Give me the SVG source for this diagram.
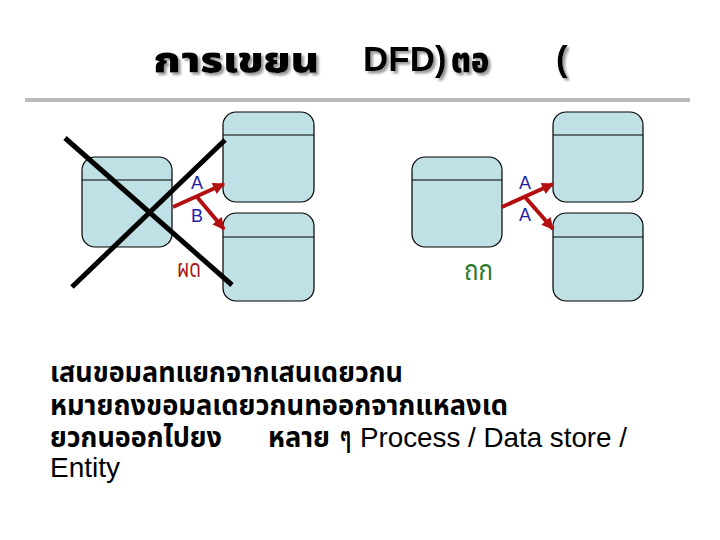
<svg xmlns="http://www.w3.org/2000/svg" width="720" height="540" viewBox="0 0 720 540">
<style>
.box{fill:#bfe0e4;stroke:#000;stroke-width:1.2}
.div{stroke:#000;stroke-width:1.2}
.ttl{font-family:"Liberation Sans","Noto Sans Thai","Tahoma",sans-serif;font-weight:bold;font-size:35px;fill:#000;filter:url(#sh)}
.ttlth{font-family:"Noto Sans Thai","Liberation Sans","Tahoma",sans-serif;font-weight:900;font-size:36px;fill:#000;filter:url(#sh)}
.body{font-family:"Liberation Sans","Noto Sans Thai","Tahoma",sans-serif;font-size:28px;fill:#000}
.th{font-family:"Noto Sans Thai","Liberation Sans","Tahoma",sans-serif;font-size:28px;font-weight:bold;fill:#000}
.lbl{font-family:"Liberation Sans",sans-serif;font-size:18px;fill:#1f1fa8}
.arr{stroke:#b30f0f;stroke-width:4;fill:none;marker-end:url(#ah)}
.x{stroke:#000;stroke-width:5;stroke-linecap:butt}
</style>
<defs>
<marker id="ah" viewBox="0 0 10 10" refX="9" refY="5" markerWidth="3.2" markerHeight="3" orient="auto">
<path d="M0,0 L10,5 L0,10 z" fill="#b30f0f"/>
</marker>
<filter id="sh" x="-10%" y="-20%" width="120%" height="150%">
<feDropShadow dx="2.5" dy="2.5" stdDeviation="0.8" flood-color="#999" flood-opacity="1"/>
</filter>
</defs>
<rect width="720" height="540" fill="#fff"/>
<g id="title">
<text class="ttlth" x="153" y="72" textLength="166" lengthAdjust="spacingAndGlyphs">การเขยน</text>
<text class="ttl" x="363" y="71">DFD)</text>
<text class="ttlth" x="451" y="72" textLength="38" lengthAdjust="spacingAndGlyphs">ตอ</text>
<text class="ttl" x="556" y="71">(</text>
<line x1="25" y1="100" x2="690" y2="100" stroke="#bbb" stroke-width="4"/>
</g>
<g id="left-source"><rect class="box" x="82" y="157" width="90" height="90" rx="13"/><line class="div" x1="82" y1="180" x2="172" y2="180"/></g>
<g id="left-top"><rect class="box" x="223" y="112" width="91" height="90" rx="13"/><line class="div" x1="223" y1="135" x2="314" y2="135"/></g>
<g id="left-bottom"><rect class="box" x="223" y="213" width="91" height="88" rx="13"/><line class="div" x1="223" y1="237" x2="314" y2="237"/></g>
<g id="right-source"><rect class="box" x="412" y="157" width="90" height="90" rx="13"/><line class="div" x1="412" y1="180" x2="502" y2="180"/></g>
<g id="right-top"><rect class="box" x="553" y="112" width="90" height="90" rx="13"/><line class="div" x1="553" y1="135" x2="643" y2="135"/></g>
<g id="right-bottom"><rect class="box" x="553" y="213" width="90" height="88" rx="13"/><line class="div" x1="553" y1="237" x2="643" y2="237"/></g>
<g id="connectors">
<path class="arr" d="M173,207 L224,184"/>
<path class="arr" d="M197,197 L224,229"/>
<path class="arr" d="M502,207 L553,184"/>
<path class="arr" d="M525,197 L553,229"/>
</g>
<g id="labels">
<text class="lbl" x="191" y="189">A</text>
<text class="lbl" x="191" y="222">B</text>
<text class="lbl" x="519" y="189">A</text>
<text class="lbl" x="519" y="221">A</text>
<text x="177" y="277" font-family="'Noto Sans Thai','Liberation Sans',Tahoma,sans-serif" font-size="24" fill="#a81a1a" textLength="24" lengthAdjust="spacingAndGlyphs">ผด</text>
<text x="464" y="280" font-family="'Noto Sans Thai','Liberation Sans',Tahoma,sans-serif" font-size="28" fill="#2a7a2a" textLength="29" lengthAdjust="spacingAndGlyphs">ถก</text>
</g>
<g id="cross">
<line class="x" x1="65" y1="138" x2="232" y2="285"/>
<line class="x" x1="225" y1="140" x2="72" y2="287"/>
</g>
<g id="body">
<text class="th" x="50" y="382" textLength="353" lengthAdjust="spacingAndGlyphs">เสนขอมลทแยกจากเสนเดยวกน</text>
<text class="th" x="50" y="415" textLength="458" lengthAdjust="spacingAndGlyphs">หมายถงขอมลเดยวกนทออกจากแหลงเด</text>
<text class="th" x="50" y="447" textLength="172" lengthAdjust="spacingAndGlyphs">ยวกนออกไปยง</text>
<text class="th" x="268" y="447" textLength="62" lengthAdjust="spacingAndGlyphs">หลาย</text>
<text class="th" x="340" y="447" textLength="11" lengthAdjust="spacingAndGlyphs">ๆ</text>
<text class="body" x="360" y="447" textLength="267" lengthAdjust="spacingAndGlyphs">Process / Data store /</text>
<text class="body" x="50" y="477">Entity</text>
</g>
</svg>
